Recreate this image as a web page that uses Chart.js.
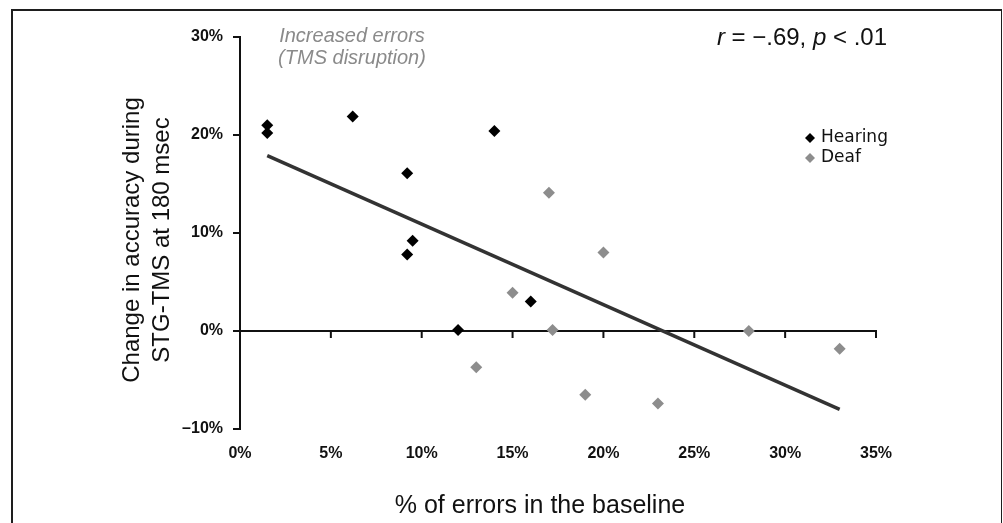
<!DOCTYPE html>
<html>
<head>
<meta charset="utf-8">
<script src="https://cdn.jsdelivr.net/npm/chart.js@4.4.1/dist/chart.umd.min.js"></script>
<style>
    body { margin: 0; background: #fff; overflow: hidden; }
    .wrap { position: relative; width: 1003px; height: 523px; overflow: hidden; }
    .frame {
        position: absolute; left: 11px; top: 9px; width: 988px; height: 540px;
        border-left: 2px solid #1e1e1e; border-top: 2px solid #1e1e1e; border-right: 1px solid #1e1e1e;
    }
    canvas { position: absolute; left: 0; top: 0; }
</style>
</head>
<body>
<div class="wrap">
    <canvas id="chart" width="1003" height="523"></canvas>
    <div class="frame"></div>
</div>
<script>
// Values (percent units)
const hearingX = [1.5, 1.5, 6.2, 14.0, 9.2, 9.5, 9.2, 16.0, 12.0];
const hearingY = [21.0, 20.2, 21.9, 20.4, 16.1, 9.2, 7.8, 3.0, 0.1];
const deafX = [17.0, 20.0, 15.0, 17.2, 28.0, 33.0, 13.0, 19.0, 23.0];
const deafY = [14.1, 8.0, 3.9, 0.1, 0.0, -1.8, -3.7, -6.5, -7.4];

// Regression line end points
const fitX = [1.5, 33.0];
const fitY = [17.9, -8.0];

const xTicks = [0, 5, 10, 15, 20, 25, 30, 35];
const yTicks = [-10, 0, 10, 20, 30];

const seriesNames = ['Hearing', 'Deaf'];
const statsText = ['r', ' = \u2212.69, ', 'p', ' < .01'];
const noteLines = ['Increased errors', '(TMS disruption)'];
const xTitle = '% of errors in the baseline';
const yTitle = ['Change in accuracy during', 'STG-TMS at 180 msec'];

const BLACK = '#000';
const GREY = '#8d8d8d';
const SANS = "'Liberation Sans', Arial, sans-serif";

const toPoints = (xs, ys) => xs.map((x, i) => ({ x: x, y: ys[i] }));

function diamond(ctx, cx, cy, r, color) {
    ctx.fillStyle = color;
    ctx.beginPath();
    ctx.moveTo(cx, cy - r);
    ctx.lineTo(cx + r, cy);
    ctx.lineTo(cx, cy + r);
    ctx.lineTo(cx - r, cy);
    ctx.closePath();
    ctx.fill();
}

// Zero line with its tick marks, titles, stats note and legend
const extras = {
    id: 'extras',
    beforeDatasetsDraw(chart) {
        const { ctx, scales: { x, y } } = chart;
        const y0 = y.getPixelForValue(0);
        ctx.save();
        ctx.strokeStyle = '#111';
        ctx.lineWidth = 2;
        ctx.beginPath();
        ctx.moveTo(x.getPixelForValue(xTicks[0]), y0);
        ctx.lineTo(x.getPixelForValue(xTicks[xTicks.length - 1]) + 1, y0);
        xTicks.forEach(v => {
            if (v === 0) return;
            const px = x.getPixelForValue(v);
            ctx.moveTo(px, y0);
            ctx.lineTo(px, y0 + 7);
        });
        ctx.stroke();
        ctx.restore();
    },
    afterDraw(chart) {
        const { ctx } = chart;
        ctx.save();

        // x title
        ctx.fillStyle = '#111';
        ctx.font = '25px ' + SANS;
        ctx.textAlign = 'center';
        ctx.textBaseline = 'alphabetic';
        ctx.fillText(xTitle, 540, 513);

        // y title (two lines, rotated)
        ctx.save();
        ctx.translate(139, 240);
        ctx.rotate(-Math.PI / 2);
        ctx.font = '24px ' + SANS;
        ctx.fillText(yTitle[0], 0, 0);
        ctx.fillText(yTitle[1], 0, 30);
        ctx.restore();

        // grey note
        ctx.fillStyle = '#8a8a8a';
        ctx.font = 'italic 20px ' + SANS;
        ctx.fillText(noteLines[0], 352, 42);
        ctx.fillText(noteLines[1], 352, 64);

        // stats text, right aligned
        ctx.fillStyle = '#111';
        ctx.textAlign = 'left';
        const fonts = statsText.map((_, i) => (i % 2 === 0 ? 'italic ' : '') + '24px ' + SANS);
        let total = 0;
        statsText.forEach((t, i) => { ctx.font = fonts[i]; total += ctx.measureText(t).width; });
        let sx = 887 - total;
        statsText.forEach((t, i) => {
            ctx.font = fonts[i];
            ctx.fillText(t, sx, 45);
            sx += ctx.measureText(t).width;
        });

        // legend
        ctx.font = "17px 'DejaVu Sans', Verdana, sans-serif";
        ctx.textBaseline = 'middle';
        const colors = [BLACK, GREY];
        seriesNames.forEach((name, i) => {
            const ly = 138 + i * 20;
            diamond(ctx, 810, ly, 5, colors[i]);
            ctx.fillStyle = '#111';
            ctx.fillText(name, 821, ly);
        });

        ctx.restore();
    }
};

const tickFont = { family: SANS, size: 16, weight: 'bold' };
const pct = v => (v < 0 ? '\u2013' + Math.abs(v) : v) + '%';

new Chart(document.getElementById('chart'), {
    type: 'scatter',
    data: {
        datasets: [
            {
                label: seriesNames[0],
                data: toPoints(hearingX, hearingY),
                pointStyle: 'rectRot',
                pointRadius: 6,
                pointHoverRadius: 6,
                backgroundColor: BLACK,
                borderColor: BLACK,
                borderWidth: 0,
                order: 1
            },
            {
                label: seriesNames[1],
                data: toPoints(deafX, deafY),
                pointStyle: 'rectRot',
                pointRadius: 6,
                pointHoverRadius: 6,
                backgroundColor: GREY,
                borderColor: GREY,
                borderWidth: 0,
                order: 2
            },
            {
                type: 'line',
                label: 'fit',
                data: toPoints(fitX, fitY),
                borderColor: '#333',
                borderWidth: 3.5,
                pointRadius: 0,
                fill: false,
                order: 3
            }
        ]
    },
    options: {
        responsive: false,
        animation: false,
        events: [],
        layout: { padding: { top: 37, right: 127, left: 0, bottom: 0 } },
        plugins: {
            legend: { display: false },
            tooltip: { enabled: false }
        },
        scales: {
            x: {
                type: 'linear',
                min: xTicks[0],
                max: xTicks[xTicks.length - 1],
                afterBuildTicks: s => { s.ticks = xTicks.map(v => ({ value: v })); },
                afterFit: s => { s.height = 94; },
                grid: { display: false, drawTicks: false },
                border: { display: false },
                ticks: { padding: 15, color: '#111', font: tickFont, callback: pct, maxRotation: 0 }
            },
            y: {
                min: yTicks[0],
                max: yTicks[yTicks.length - 1],
                afterBuildTicks: s => { s.ticks = yTicks.map(v => ({ value: v })); },
                afterFit: s => { s.width = 240; },
                grid: { drawOnChartArea: false, drawTicks: true, tickLength: 7, color: '#111', lineWidth: 2 },
                border: { display: true, color: '#111', width: 2 },
                ticks: { padding: 10, color: '#111', font: tickFont, callback: pct }
            }
        }
    },
    plugins: [extras]
});
</script>
</body>
</html>
